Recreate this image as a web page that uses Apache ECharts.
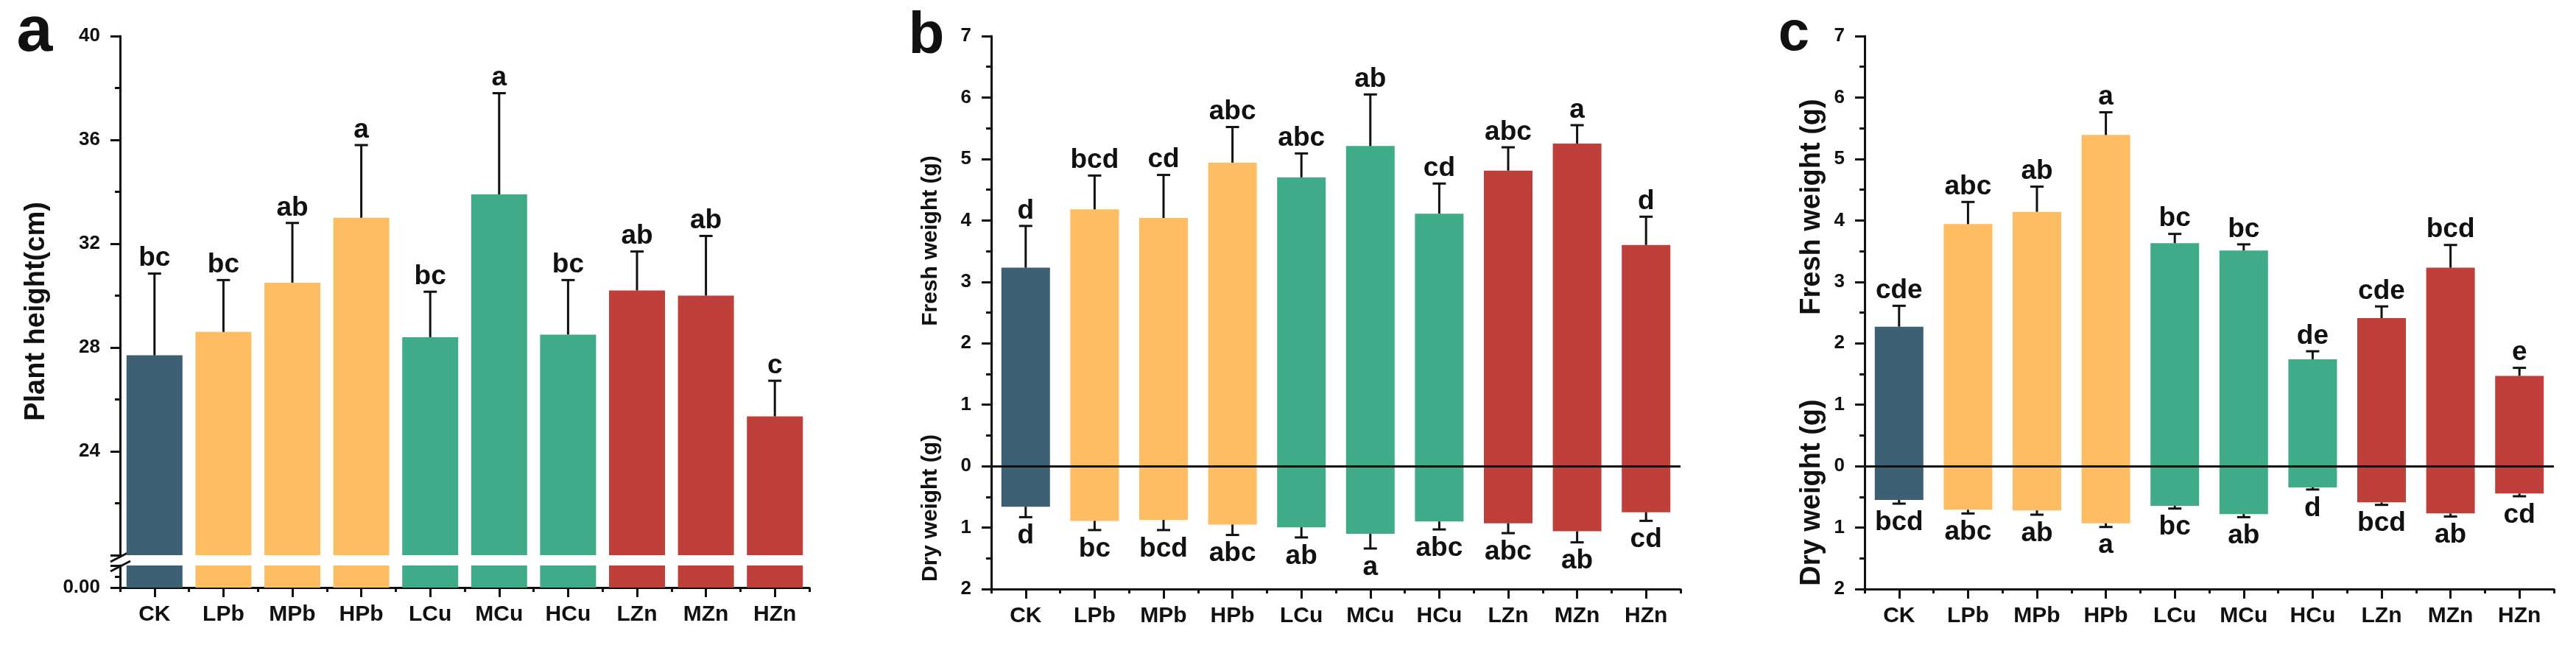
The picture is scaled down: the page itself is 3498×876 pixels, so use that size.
<!DOCTYPE html>
<html>
<head>
<meta charset="utf-8">
<script src="https://cdn.jsdelivr.net/npm/echarts@6/dist/echarts.min.js"></script>
<style>
html, body { margin: 0; padding: 0; background: #fff; }
#main { width: 3498px; height: 876px; }
</style>
</head>
<body>
<div id="main"></div>
<script>
var categories = ['CK', 'LPb', 'MPb', 'HPb', 'LCu', 'MCu', 'HCu', 'LZn', 'MZn', 'HZn'];

// a - plant height (cm)
var heightMean = [27.7, 28.6, 30.5, 33.0, 28.4, 33.9, 28.5, 30.2, 30.0, 25.35];
var heightSd = [3.15, 2.0, 2.3, 2.8, 1.75, 3.9, 2.1, 1.5, 2.3, 1.37];
var heightSig = ['bc', 'bc', 'ab', 'a', 'bc', 'a', 'bc', 'ab', 'ab', 'c'];

// b - fresh / dry weight (g)
var freshB = [3.23, 4.18, 4.04, 4.94, 4.70, 5.21, 4.11, 4.81, 5.25, 3.60];
var freshBSd = [0.68, 0.55, 0.70, 0.58, 0.39, 0.84, 0.49, 0.38, 0.30, 0.46];
var freshBSig = ['d', 'bcd', 'cd', 'abc', 'abc', 'ab', 'cd', 'abc', 'a', 'd'];
var dryB = [0.66, 0.89, 0.875, 0.95, 0.995, 1.10, 0.90, 0.93, 1.06, 0.75];
var dryBSd = [0.17, 0.15, 0.165, 0.17, 0.165, 0.24, 0.13, 0.16, 0.18, 0.14];
var dryBSig = ['d', 'bc', 'bcd', 'abc', 'ab', 'a', 'abc', 'abc', 'ab', 'cd'];

// c - fresh / dry weight (g)
var freshC = [2.27, 3.94, 4.14, 5.39, 3.63, 3.51, 1.74, 2.41, 3.23, 1.47];
var freshCSd = [0.34, 0.36, 0.41, 0.37, 0.15, 0.10, 0.13, 0.19, 0.37, 0.13];
var freshCSig = ['cde', 'abc', 'ab', 'a', 'bc', 'bc', 'de', 'cde', 'bcd', 'e'];
var dryC = [0.55, 0.71, 0.72, 0.93, 0.645, 0.78, 0.345, 0.59, 0.77, 0.446];
var dryCSd = [0.06, 0.06, 0.07, 0.06, 0.045, 0.05, 0.035, 0.04, 0.05, 0.044];
var dryCSig = ['bcd', 'abc', 'ab', 'a', 'bc', 'ab', 'd', 'bcd', 'ab', 'cd'];

var barColors = ['#3E6075', '#FEBD62', '#FEBD62', '#FEBD62', '#40AB89', '#40AB89', '#40AB89', '#BF403A', '#BF403A', '#BF403A'];

var FONT = '"Liberation Sans", Arial, sans-serif';
var INK = '#111';

var chart = echarts.init(document.getElementById('main'));

function colorOf(p) { return barColors[p.dataIndex]; }

function neg(arr) { return arr.map(function (v) { return -v; }); }

function yAxis(grid, min, max, interval, fmt) {
    return {
        type: 'value', gridIndex: grid, min: min, max: max, interval: interval,
        axisLine: { show: true, onZero: false, lineStyle: { color: INK, width: 3 } },
        axisTick: { show: true, length: 13, lineStyle: { color: INK, width: 3 } },
        minorTick: { show: true, splitNumber: 2, length: 7, lineStyle: { color: INK, width: 3 } },
        splitLine: { show: false },
        axisLabel: { margin: 27, fontSize: 26, fontWeight: 'bold', color: INK, fontFamily: FONT, formatter: fmt }
    };
}

function xAxes(grid) {
    return [{
        type: 'category', gridIndex: grid, data: categories, position: 'bottom',
        axisLine: { show: true, onZero: false, lineStyle: { color: INK, width: 3 } },
        axisTick: { show: true, alignWithLabel: true, length: 13, lineStyle: { color: INK, width: 3 } },
        axisLabel: { margin: 22, fontSize: 30, fontWeight: 'bold', color: INK, fontFamily: FONT },
        splitLine: { show: false }
    }, {
        type: 'category', gridIndex: grid, data: categories, position: 'bottom',
        axisLine: { show: false, onZero: false },
        axisTick: { show: true, length: 6, lineStyle: { color: INK, width: 3 } },
        axisLabel: { show: false },
        splitLine: { show: false }
    }];
}

// one-sided error bar + significance letters
function errorSeries(xi, yi, mean, sd, sig, dir) {
    var data = mean.map(function (m, i) {
        return [i, dir * m, dir * (m + sd[i])];
    });
    return {
        type: 'custom', xAxisIndex: xi, yAxisIndex: yi, z: 6,
        data: data,
        encode: { x: 0, y: [1, 2] },
        renderItem: function (params, api) {
            var p0 = api.coord([api.value(0), api.value(1)]);
            var p1 = api.coord([api.value(0), api.value(2)]);
            return {
                type: 'group',
                children: [
                    { type: 'line', shape: { x1: p0[0], y1: p0[1], x2: p1[0], y2: p1[1] }, style: { stroke: INK, lineWidth: 3 } },
                    { type: 'line', shape: { x1: p1[0] - 9, y1: p1[1], x2: p1[0] + 9, y2: p1[1] }, style: { stroke: INK, lineWidth: 3 } },
                    {
                        type: 'text', x: p1[0], y: dir > 0 ? p1[1] - 2 : p1[1] + 7,
                        style: {
                            text: sig[params.dataIndex], fill: INK,
                            font: 'bold 37px ' + FONT,
                            align: 'center', verticalAlign: dir > 0 ? 'bottom' : 'top'
                        }
                    }
                ]
            };
        }
    };
}

function vText(x, y, txt, size) {
    return {
        type: 'text', x: x, y: y, rotation: Math.PI / 2,
        style: { text: txt, fill: INK, font: 'bold ' + size + 'px ' + FONT, align: 'center', verticalAlign: 'middle' }
    };
}

function panelLetter(x, y, txt, size) {
    return {
        type: 'text', x: x, y: y,
        style: { text: txt, fill: INK, font: 'bold ' + size + 'px ' + FONT, align: 'center', verticalAlign: 'middle' }
    };
}

var option = {
    animation: false,
    backgroundColor: '#fff',
    grid: [
        { left: 163, top: 49, width: 936, height: 705 },   // a upper
        { left: 163, top: 768, width: 936, height: 30 },   // a lower (below break)
        { left: 1346, top: 49, width: 936, height: 751 },  // b
        { left: 2532, top: 49, width: 936, height: 751 }   // c
    ],
    xAxis: [].concat(
        xAxes(1),
        [{ type: 'category', gridIndex: 0, data: categories, show: false }],
        xAxes(2),
        xAxes(3)
    ),
    yAxis: [
        yAxis(0, 20, 40, 4, function (v) { return v === 20 ? '' : v; }),
        yAxis(1, 0, 20, 20, function (v) { return v === 0 ? '0.00' : ''; }),
        yAxis(2, -2, 7, 1, function (v) { return Math.abs(v); }),
        yAxis(3, -2, 7, 1, function (v) { return Math.abs(v); })
    ],
    series: [
        // a
        { type: 'bar', xAxisIndex: 2, yAxisIndex: 0, data: heightMean, barWidth: 76, itemStyle: { color: colorOf } },
        { type: 'bar', xAxisIndex: 0, yAxisIndex: 1, data: heightMean, barWidth: 76, itemStyle: { color: colorOf } },
        errorSeries(2, 0, heightMean, heightSd, heightSig, 1),
        // b
        {
            type: 'bar', xAxisIndex: 3, yAxisIndex: 2, data: freshB, barWidth: 66, barGap: '-100%', itemStyle: { color: colorOf },
            markLine: { silent: true, symbol: 'none', label: { show: false }, lineStyle: { color: INK, width: 3, type: 'solid' }, data: [{ yAxis: 0 }] }
        },
        { type: 'bar', xAxisIndex: 3, yAxisIndex: 2, data: neg(dryB), barWidth: 66, barGap: '-100%', itemStyle: { color: colorOf } },
        errorSeries(3, 2, freshB, freshBSd, freshBSig, 1),
        errorSeries(3, 2, dryB, dryBSd, dryBSig, -1),
        // c
        {
            type: 'bar', xAxisIndex: 5, yAxisIndex: 3, data: freshC, barWidth: 66, barGap: '-100%', itemStyle: { color: colorOf },
            markLine: { silent: true, symbol: 'none', label: { show: false }, lineStyle: { color: INK, width: 3, type: 'solid' }, data: [{ yAxis: 0 }] }
        },
        { type: 'bar', xAxisIndex: 5, yAxisIndex: 3, data: neg(dryC), barWidth: 66, barGap: '-100%', itemStyle: { color: colorOf } },
        errorSeries(5, 3, freshC, freshCSd, freshCSig, 1),
        errorSeries(5, 3, dryC, dryCSd, dryCSig, -1)
    ],
    graphic: [
        panelLetter(47, 45, 'a', 88),
        panelLetter(1258, 50, 'b', 80),
        panelLetter(2436, 47, 'c', 76),
        vText(50, 423, 'Plant height(cm)', 38),
        vText(1264, 327, 'Fresh weight (g)', 30),
        vText(1264, 690, 'Dry weight (g)', 30),
        vText(2461, 281, 'Fresh weight (g)', 38),
        vText(2461, 669, 'Dry weight (g)', 38),
        // axis break marks on panel a
        { type: 'line', shape: { x1: 150, y1: 763, x2: 177, y2: 749 }, style: { stroke: INK, lineWidth: 3 } },
        { type: 'line', shape: { x1: 150, y1: 776, x2: 177, y2: 762 }, style: { stroke: INK, lineWidth: 3 } }
    ]
};

chart.setOption(option);
</script>
</body>
</html>
